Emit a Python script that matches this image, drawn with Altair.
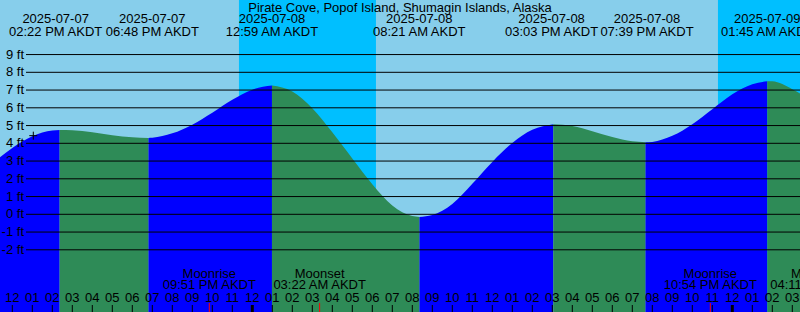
import altair as alt
import pandas as pd

# ---------------- data (hours are counted from 2025-07-07 12:00 PM AKDT) ----------------
title_text = "Pirate Cove, Popof Island, Shumagin Islands, Alaska"

tide_event_hours = [2.367, 6.8, 12.983, 20.35, 27.05, 31.65, 37.75]
tide_event_ft = [4.75, 4.30, 7.25, -0.15, 5.07, 4.06, 7.50]
tide_event_kind = ["high", "low", "high", "low", "high", "low", "high"]
tide_event_dates = ["2025-07-07", "2025-07-07", "2025-07-08", "2025-07-08",
                    "2025-07-08", "2025-07-08", "2025-07-09"]
tide_event_times = ["02:22 PM AKDT", "06:48 PM AKDT", "12:59 AM AKDT", "08:21 AM AKDT",
                    "03:03 PM AKDT", "07:39 PM AKDT", "01:45 AM AKDT"]

# tide height at each hour
curve_hours = [-1, 0, 1, 2, 3, 4, 5, 6, 7, 8, 9, 10, 11, 12, 14, 15, 16, 17, 18, 19, 20,
               21, 22, 23, 24, 25, 26, 28, 29, 30, 31, 32, 33, 34, 35, 36, 37, 38, 39, 40]
curve_ft = [2.85, 3.74, 4.40, 4.72, 4.73, 4.62, 4.46, 4.34, 4.31, 4.56, 5.05, 5.72, 6.45, 7.02,
            6.92, 5.98, 4.62, 3.15, 1.70, 0.50, -0.10,
            -0.04, 0.58, 1.72, 2.95, 4.02, 4.76, 4.97, 4.68, 4.35, 4.11, 4.08, 4.42, 5.08,
            5.92, 6.76, 7.33, 7.49, 7.05, 6.35]

moon_event_hours = [9.85, 15.367, 34.9, 40.183]
moon_event_names = ["Moonrise", "Moonset", "Moonrise", "Moonset"]
moon_event_times = ["09:51 PM AKDT", "03:22 AM AKDT", "10:54 PM AKDT", "04:11 AM AKDT"]

night_start_hours = [11.333, 35.283]
night_end_hours = [18.183, 42.0]

hour_tick_hours = list(range(0, 40))
hour_tick_labels = ["12", "01", "02", "03", "04", "05", "06", "07", "08", "09", "10", "11",
                    "12", "01", "02", "03", "04", "05", "06", "07", "08", "09", "10", "11",
                    "12", "01", "02", "03", "04", "05", "06", "07", "08", "09", "10", "11",
                    "12", "01", "02", "03"]
midnight_hours = [12, 36]

level_ticks_ft = [-2, -1, 0, 1, 2, 3, 4, 5, 6, 7, 8, 9]
level_tick_labels = ["-2 ft", "-1 ft", "0 ft", "1 ft", "2 ft", "3 ft", "4 ft", "5 ft",
                     "6 ft", "7 ft", "8 ft", "9 ft"]

now_hours = 1.05
now_ft = 4.43

# ---------------- layout / style ----------------
W, H = 800, 312
FONT = "Liberation Sans"
FS = 13
label_nudge_px = [-4, 4, 0, 0, -1.7, 1.7, 0]
SKY_DAY = "#87ceeb"
SKY_NIGHT = "#00bfff"
RISING = "#0000ff"
FALLING = "#2e8b57"

xs = alt.Scale(domain=[-0.615, 39.385], nice=False, zero=False)
ys = alt.Scale(domain=[-5.504, 12.073], nice=False, zero=False)

# tide curve split into rising / falling segments
pts = sorted(list(zip(curve_hours, curve_ft)) + list(zip(tide_event_hours, tide_event_ft)))
bounds = [float("-inf")] + tide_event_hours + [float("inf")]
rows = []
for s in range(len(bounds) - 1):
    lo, hi = bounds[s], bounds[s + 1]
    kind = "rising" if (s < len(tide_event_kind) and tide_event_kind[s] == "high") else "falling"
    for h, f in pts:
        if lo <= h <= hi:
            rows.append({"h": h, "ft": f, "seg": s, "kind": kind})
tide_df = pd.DataFrame(rows)

night_df = pd.DataFrame({"start": night_start_hours, "end": night_end_hours})
levels_df = pd.DataFrame({"ft": level_ticks_ft, "label": level_tick_labels})
hours_df = pd.DataFrame({"h": hour_tick_hours, "label": hour_tick_labels})
mid_df = pd.DataFrame({"h": midnight_hours})
moon_df = pd.DataFrame({"h": moon_event_hours, "name": moon_event_names, "time": moon_event_times})
now_df = pd.DataFrame({"h": [now_hours], "ft": [now_ft]})
title_df = pd.DataFrame({"t": [title_text]})

layers = []

layers.append(
    alt.Chart(night_df).mark_rect(color=SKY_NIGHT, clip=True).encode(
        x=alt.X("start:Q", scale=xs, axis=None), x2="end:Q",
        y=alt.value(0), y2=alt.value(H))
)

for kind, col in [("rising", RISING), ("falling", FALLING)]:
    layers.append(
        alt.Chart(tide_df).transform_filter(alt.datum.kind == kind)
        .mark_area(color=col, interpolate="monotone", clip=True).encode(
            x=alt.X("h:Q", scale=xs, axis=None),
            y=alt.Y("ft:Q", scale=ys, axis=None, stack=None),
            y2=alt.value(H),
            detail="seg:N")
    )

layers.append(
    alt.Chart(levels_df).mark_rule(color="black", strokeWidth=1).encode(
        y=alt.Y("ft:Q", scale=ys, axis=None), x=alt.value(26), x2=alt.value(W))
)
layers.append(
    alt.Chart(levels_df).mark_text(align="right", baseline="middle", font=FONT, fontSize=FS,
                                   color="black").encode(
        y=alt.Y("ft:Q", scale=ys, axis=None), x=alt.value(24), text="label:N")
)

layers.append(
    alt.Chart(now_df).mark_point(shape="M-1,0L1,0M0,-1L0,1", size=64, color="black",
                                 strokeWidth=1, filled=False, opacity=1).encode(
        x=alt.X("h:Q", scale=xs, axis=None), y=alt.Y("ft:Q", scale=ys, axis=None))
)

layers.append(
    alt.Chart(title_df).mark_text(align="center", baseline="alphabetic", font=FONT,
                                  fontSize=FS, color="black").encode(
        x=alt.value(W / 2), y=alt.value(11.7), text="t:N")
)

for i in range(len(tide_event_hours)):
    d = pd.DataFrame({"h": [tide_event_hours[i]], "date": [tide_event_dates[i]],
                      "time": [tide_event_times[i]]})
    for field, yy in [("date", 23.3), ("time", 35.7)]:
        layers.append(
            alt.Chart(d).mark_text(align="center", baseline="alphabetic", font=FONT,
                                   fontSize=FS, color="black", dx=label_nudge_px[i]).encode(
                x=alt.X("h:Q", scale=xs, axis=None), y=alt.value(yy), text=f"{field}:N")
        )

for field, yy in [("name", 278.3), ("time", 289.3)]:
    layers.append(
        alt.Chart(moon_df).mark_text(align="center", baseline="alphabetic", font=FONT,
                                     fontSize=FS, color="black").encode(
            x=alt.X("h:Q", scale=xs, axis=None), y=alt.value(yy), text=f"{field}:N")
    )

layers.append(
    alt.Chart(hours_df).mark_rule(color="black", strokeWidth=1).encode(
        x=alt.X("h:Q", scale=xs, axis=None), y=alt.value(305), y2=alt.value(H))
)
layers.append(
    alt.Chart(mid_df).mark_rule(color="black", strokeWidth=3).encode(
        x=alt.X("h:Q", scale=xs, axis=None), y=alt.value(305), y2=alt.value(H))
)
layers.append(
    alt.Chart(moon_df).mark_rule(color="#ff0000", strokeWidth=1).encode(
        x=alt.X("h:Q", scale=xs, axis=None), y=alt.value(303), y2=alt.value(H))
)
layers.append(
    alt.Chart(hours_df).mark_text(align="center", baseline="alphabetic", font=FONT,
                                  fontSize=FS, color="black").encode(
        x=alt.X("h:Q", scale=xs, axis=None), y=alt.value(302.3), text="label:N")
)

chart = alt.layer(*layers).properties(
    width=W, height=H, padding=0, autosize=alt.AutoSizeParams(type="none"),
    background=SKY_DAY
).configure_view(stroke=None)

chart.save("out.html", embed_options={"renderer": "svg", "actions": False})
